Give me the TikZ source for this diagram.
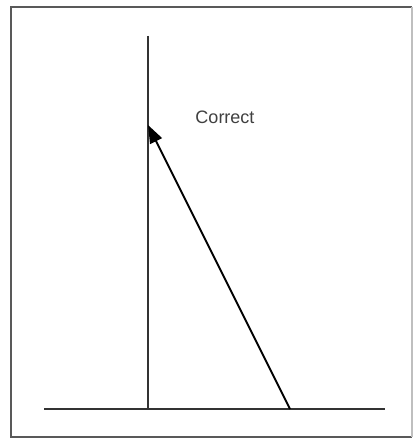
\documentclass[tikz,border=0pt]{standalone}
\usepackage{fontspec}
\setmainfont{Liberation Sans}
\usetikzlibrary{arrows.meta}
\begin{document}
\begin{tikzpicture}[x=1pt,y=-1pt,
  frameline/.style={draw=black!65,line width=2.6pt},
  axisline/.style={draw=black!80,line width=2pt},
  vecline/.style={draw=black,line width=1.8pt,-{Triangle[length=18pt,width=13pt]}},
  lbl/.style={font=\fontsize{18}{20}\selectfont,text=black!75,inner sep=0pt}]
\useasboundingbox (0,0) rectangle (414,441);
\fill[white] (0,0) rectangle (414,441);
\coordinate (tl) at (11,7);
\coordinate (tr) at (412,7);
\coordinate (bl) at (11,437);
\coordinate (br) at (412,437);
\draw[frameline] (tr) -- (tl) -- (bl) -- (br);
\draw[draw=black!25,line width=1.5pt] (tr) -- (br);
\coordinate (vtop) at (148,36);
\coordinate (vbot) at (148,409);
\coordinate (hl) at (44,409);
\coordinate (hr) at (385,409);
\coordinate (vs) at (290,409);
\coordinate (vt) at (148,125);
\draw[axisline] (hl) -- (hr);
\draw[axisline] (vtop) -- (vbot);
\draw[vecline] (vs) -- (vt);
\node[lbl] (correct) at (225,117) {Correct};
\end{tikzpicture}
\end{document}
